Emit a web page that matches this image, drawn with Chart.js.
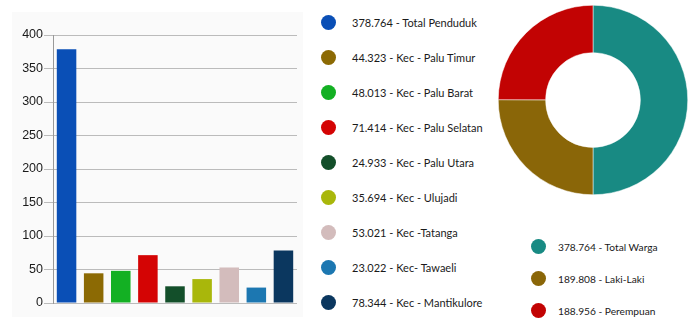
<!DOCTYPE html>
<html>
<head>
<meta charset="utf-8">
<script src="https://cdn.jsdelivr.net/npm/chart.js@4.4.0/dist/chart.umd.min.js"></script>
<style>
  html, body { margin: 0; padding: 0; background: #fff; }
  body { width: 700px; height: 328px; position: relative; overflow: hidden; font-family: Lato, 'Open Sans', sans-serif; }
  .panel { position: absolute; left: 12px; top: 12px; width: 291px; height: 305px; background: #fafafa; }
  #barWrap { position: absolute; left: 0; top: 0; width: 310px; height: 328px; }
  #pieWrap { position: absolute; left: 498px; top: 5px; width: 190px; height: 190px; }
  .legend { position: absolute; margin: 0; padding: 0; list-style: none; }
  .legend li { position: absolute; left: 0; height: 16px; white-space: nowrap; color: #1a1a1a; line-height: 16px; }
  .legend .dot { position: absolute; left: 0; top: 0; width: 15px; height: 15px; border-radius: 50%; }
  .legend .txt { position: absolute; top: 0; }
  #districtLegend li { font-size: 11px; }
  #genderLegend li { font-size: 10.2px; }
</style>
</head>
<body>
<div class="panel"></div>
<div id="barWrap"><canvas id="districtChart"></canvas></div>
<ul class="legend" id="districtLegend" style="left:321px; top:15px;"></ul>
<div id="pieWrap"><canvas id="genderChart"></canvas></div>
<ul class="legend" id="genderLegend" style="left:531px; top:239px;"></ul>

<script>
// population per district, in thousands
const districts = ['Total Penduduk', 'Kec - Palu Timur', 'Kec - Palu Barat', 'Kec - Palu Selatan', 'Kec - Palu Utara', 'Kec - Ulujadi', 'Kec -Tatanga', 'Kec- Tawaeli', 'Kec - Mantikulore'];
const districtValues = [378.764, 44.323, 48.013, 71.414, 24.933, 35.694, 53.021, 23.022, 78.344];
const districtColors = ['#0a4fb6', '#8c6a04', '#13b023', '#d40404', '#134f2a', '#a9b70b', '#d3bcbc', '#1c77b1', '#0b375f'];
const yTicks = [0, 50, 100, 150, 200, 250, 300, 350, 400];

const genderLabels = ['Total Warga', 'Laki-Laki', 'Perempuan'];
const genderValues = [378.764, 189.808, 188.956];
const genderColors = ['#188a83', '#8a6608', '#c20303'];

const fmt = v => v.toFixed(3);

function buildLegend(id, labels, values, colors, rowStep, textLeft) {
  const ul = document.getElementById(id);
  ul.innerHTML = labels.map((l, i) => `
    <li style="top:${i * rowStep}px">
      <span class="dot" style="background:${colors[i]}"></span>
      <span class="txt" style="left:${textLeft}px">${fmt(values[i])} - ${l}</span>
    </li>`).join('');
}

buildLegend('districtLegend', districts, districtValues, districtColors, 35, 31);
buildLegend('genderLegend', genderLabels, genderValues, genderColors, 32.2, 27);

Chart.defaults.font.family = "'Liberation Sans', Arial, sans-serif";

new Chart(document.getElementById('districtChart'), {
  type: 'bar',
  data: {
    labels: districts,
    datasets: [{ data: districtValues, backgroundColor: districtColors, borderWidth: 0, categoryPercentage: 0.8, barPercentage: 0.9 }]
  },
  options: {
    responsive: true, maintainAspectRatio: false, animation: false,
    layout: { padding: { left: 0, right: 13, top: 35, bottom: 25 } },
    plugins: { legend: { display: false }, tooltip: { enabled: false } },
    scales: {
      x: { display: false },
      y: {
        min: 0, max: 400,
        afterBuildTicks: s => { s.ticks = yTicks.map(v => ({ value: v })); },
        afterFit: s => { s.width = 53; },
        ticks: { color: '#1a1a1a', font: { size: 12.5 }, padding: 1 },
        grid: { color: '#bbb', tickLength: 9 },
        border: { color: '#999' }
      }
    }
  }
});

new Chart(document.getElementById('genderChart'), {
  type: 'doughnut',
  data: {
    labels: genderLabels,
    datasets: [{ data: genderValues, backgroundColor: genderColors, borderColor: '#fff', borderWidth: 0.5 }]
  },
  options: {
    responsive: true, maintainAspectRatio: false, animation: false,
    cutout: '50%',
    plugins: { legend: { display: false }, tooltip: { enabled: false } }
  }
});
</script>
</body>
</html>
